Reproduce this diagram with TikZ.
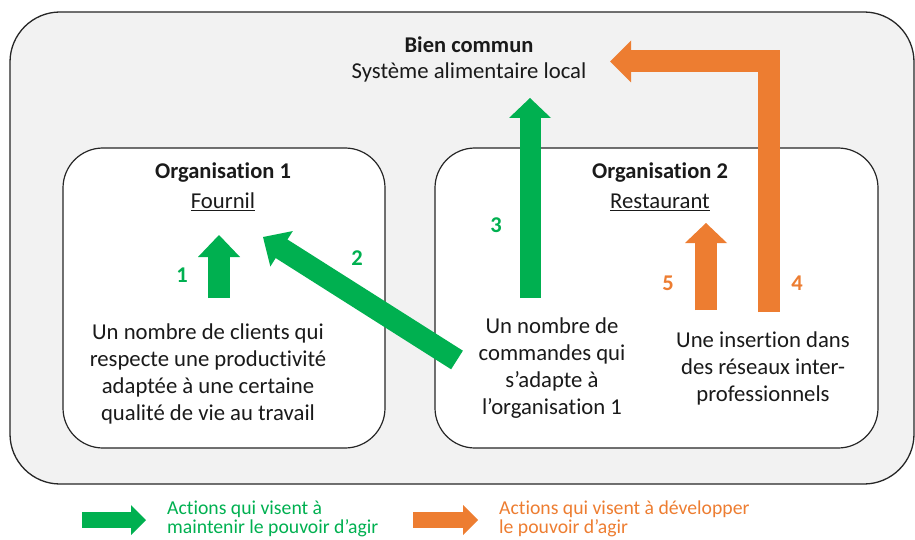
\documentclass[tikz,border=0pt]{standalone}
\usepackage{fontspec}
\setmainfont[Ligatures={TeX,NoCommon}]{Carlito}
\usetikzlibrary{calc}
\definecolor{okgreen}{HTML}{00B050}
\definecolor{okorange}{HTML}{ED7D31}
\definecolor{bgray}{HTML}{F2F2F2}
\definecolor{txt}{HTML}{1A1A1A}
\definecolor{edge}{HTML}{262626}

\tikzset{
  x=1pt, y=-1pt,
  outerbox/.style={draw=edge, line width=1.3pt, fill=bgray, rounded corners=50pt},
  innerbox/.style={draw=edge, line width=1.2pt, fill=white, rounded corners=40pt},
  maintext/.style={font=\fontsize{22.7}{27}\selectfont, text=txt, align=center, inner sep=0pt},
  titletext/.style={font=\fontsize{22.5}{27}\selectfont\bfseries, text=txt, inner sep=0pt},
  numlabel/.style={font=\fontsize{22.5}{27}\selectfont\bfseries, inner sep=0pt},
  legendtext/.style={font=\fontsize{19.7}{19.5}\selectfont, align=left, anchor=west, inner sep=0pt},
}

% block arrow: #1 colour, #2 start, #3 tip, #4 shaft width, #5 half head width, #6 head length
\newcommand\blockarrow[6]{%
  \path ($(#3)!#6!(#2)$) coordinate (hb);
  \draw[#1, line width=#4, line cap=butt] (#2) -- ($(hb)!-1pt!(#2)$);
  \fill[#1] ($(hb)!#5!90:(#3)$) -- (#3) -- ($(hb)!#5!-90:(#3)$) -- cycle;
}

\begin{document}
\begin{tikzpicture}
\useasboundingbox (0,0) rectangle (915,540);

% containers
\draw[outerbox] (10,12) rectangle (914,484);
\node[innerbox, minimum width=322pt, minimum height=300pt] (org1) at (224,298) {};
\node[innerbox, minimum width=443pt, minimum height=300pt] (org2) at (656.5,298) {};

% titles
\node[titletext] (bc) at (469,45) {Bien commun};
\node[maintext] (sal) at (469,72) {Système alimentaire local};
\node[titletext] (o1) at (223,173) {Organisation 1};
\node[maintext] (four) at (223,202) {\underline{Fournil}};
\node[titletext] (o2) at (660,173) {Organisation 2};
\node[maintext] (rest) at (660,202) {\underline{Restaurant}};

% body texts
\node[maintext] (t1) at (208,374) {Un nombre de clients qui\\respecte une productivité\\adaptée à une certaine\\qualité de vie au travail};
\node[maintext] (t2) at (552,368) {Un nombre de\\commandes qui\\s’adapte à\\l’organisation 1};
\node[maintext] (t3) at (763,368) {Une insertion dans\\des réseaux inter-\\professionnels};

% arrow end points
\coordinate (s1) at (219,298);   \coordinate (e1) at (219,235);
\coordinate (s2) at (457,360);   \coordinate (e2) at (263,237);
\coordinate (s3) at (530,298);   \coordinate (e3) at (530,98);
\coordinate (s5) at (706,310);   \coordinate (e5) at (706,223);
\coordinate (s4) at (768.5,312); \coordinate (c4) at (768.5,61.5); \coordinate (e4) at (610,61.5);

% arrows
\blockarrow{okgreen}{s1}{e1}{22pt}{21pt}{22pt}
\blockarrow{okgreen}{s2}{e2}{22pt}{21pt}{22pt}
\blockarrow{okgreen}{s3}{e3}{21pt}{21pt}{20pt}
\blockarrow{okorange}{s5}{e5}{22pt}{21pt}{20pt}
\path ($(e4)!21pt!(c4)$) coordinate (hb4);
\draw[okorange, line width=22pt, line cap=butt, line join=miter] (s4) -- (c4) -- ($(hb4)!-1pt!(c4)$);
\fill[okorange] ($(hb4)!21pt!90:(e4)$) -- (e4) -- ($(hb4)!21pt!-90:(e4)$) -- cycle;

% numbers
\node[numlabel, text=okgreen] (n1) at (182,275) {1};
\node[numlabel, text=okgreen] (n2) at (357,258) {2};
\node[numlabel, text=okgreen] (n3) at (496,225) {3};
\node[numlabel, text=okorange] (n5) at (668,283) {5};
\node[numlabel, text=okorange] (n4) at (797,283) {4};

% legend
\coordinate (lg1) at (82,520);  \coordinate (lg2) at (146,520);
\coordinate (lo1) at (413,520); \coordinate (lo2) at (478,520);
\blockarrow{okgreen}{lg1}{lg2}{16pt}{15pt}{15pt}
\blockarrow{okorange}{lo1}{lo2}{16pt}{15pt}{15pt}
\node[legendtext, text=okgreen] (leg1) at (167,519) {Actions qui visent à\\maintenir le pouvoir d’agir};
\node[legendtext, text=okorange] (leg2) at (499,519) {Actions qui visent à développer\\le pouvoir d’agir};
\end{tikzpicture}
\end{document}
